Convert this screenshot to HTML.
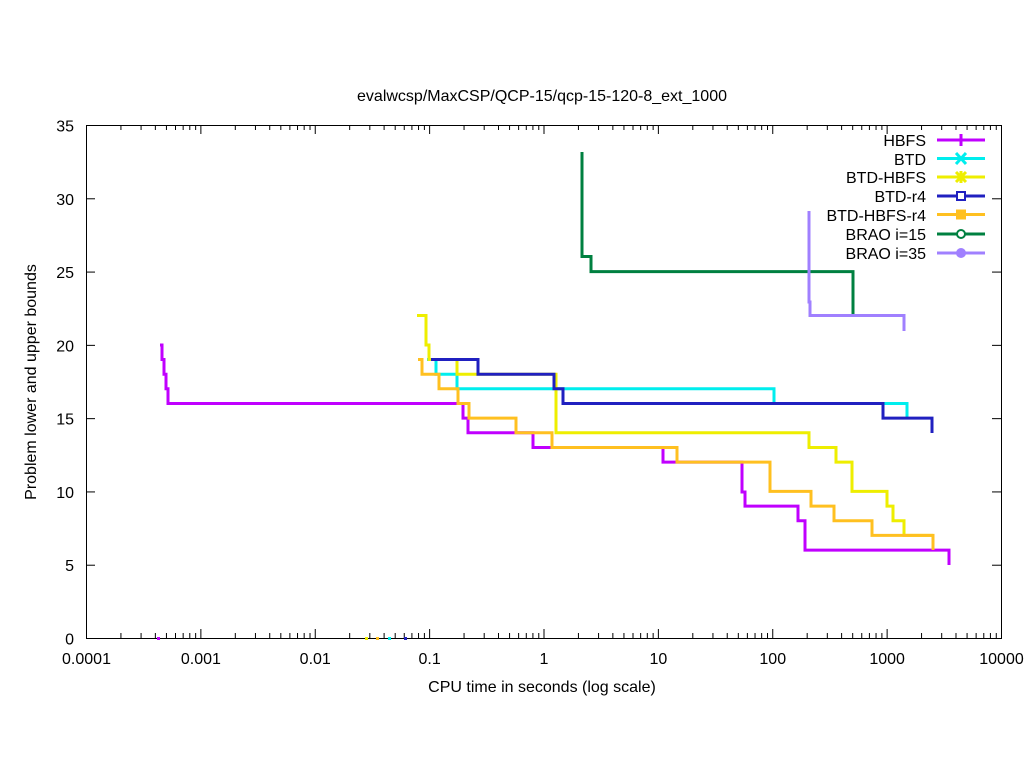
<!DOCTYPE html>
<html><head><style>body{margin:0;background:#fff}svg{display:block}text{font-family:"Liberation Sans",sans-serif;font-size:16px;fill:#000}</style></head>
<body>
<svg id="s" width="1024" height="768" xmlns="http://www.w3.org/2000/svg">
<rect width="1024" height="768" fill="#fff"/>
<g id="ticks" stroke="#000" stroke-width="1"></g>
<rect x="86.5" y="125.5" width="915" height="513" fill="none" stroke="#000"/>
<text x="542" y="101" text-anchor="middle">evalwcsp/MaxCSP/QCP-15/qcp-15-120-8_ext_1000</text>
<text x="542" y="692" text-anchor="middle">CPU time in seconds (log scale)</text>
<text transform="translate(36,382) rotate(-90)" text-anchor="middle">Problem lower and upper bounds</text>
<g id="labels"></g>
<g fill="none" stroke-width="3">
<path stroke="#c000ff" d="M160,345H162V359.5H164V374.2H166V388.8H168V403.5H463V418.1H468V432.8H533V447.5H663V462.1H742V492H745V506.1H798V520.7H805V550.1H949V565"/>
<path stroke="#00eeee" d="M427,359.5H436V374.2H457V388.8H774V403.5H907V418"/>
<path stroke="#eeee00" d="M417,315.5H426V345H429V359.5H457V374.2H556V432.8H809V447.5H836V462.1H852V491.4H887V506.1H893V520.7H904V535.4H933"/>
<path stroke="#2020c0" d="M431,359.5H478V374.2H554V388.8H563V403.5H883V418.1H932V433"/>
<path stroke="#ffc020" d="M418,359.5H422V374.2H439V388.8H458V403.5H469V418.1H516V432.8H552V447.5H677V462.1H770V491.4H811V506.1H834V520.7H872V535.4H933V550"/>
<path stroke="#008040" d="M582,152V256.5H591V271.6H853V315.5"/>
<path stroke="#a080ff" d="M809,211V302H810V315.5H904V331"/>
</g>
<g>
<rect x="157" y="637" width="3" height="3" fill="#c000ff"/>
<rect x="365" y="637" width="3" height="3" fill="#eeee00"/>
<rect x="376" y="637" width="3" height="3" fill="#ffc020"/>
<rect x="388" y="637" width="3" height="3" fill="#00eeee"/>
<rect x="404" y="637" width="3" height="3" fill="#2020c0"/>
</g>
<g text-anchor="end">
<text x="926" y="146">HBFS</text>
<text x="926" y="165">BTD</text>
<text x="926" y="183">BTD-HBFS</text>
<text x="926" y="202">BTD-r4</text>
<text x="926" y="221">BTD-HBFS-r4</text>
<text x="926" y="240">BRAO i=15</text>
<text x="926" y="259">BRAO i=35</text>
</g>
<g stroke-width="3" fill="none">
<path stroke="#c000ff" d="M937,140H985M961,134V146"/>
<path stroke="#00eeee" d="M937,158.5H985M956,153L966,164M956,164L966,153"/>
<path stroke="#eeee00" d="M937,177H985M956,172L966,182M956,182L966,172M961,171V183"/>
<path stroke="#2020c0" d="M937,196H985"/>
<rect x="957" y="192" width="8" height="8" stroke="#2020c0" stroke-width="2" fill="#fff"/>
<path stroke="#ffc020" d="M937,214.5H985"/>
<rect x="956" y="209.5" width="10" height="10" fill="#ffc020"/>
<path stroke="#008040" d="M937,234H985"/>
<circle cx="961" cy="234" r="4" stroke="#008040" stroke-width="2" fill="#fff"/>
<path stroke="#a080ff" d="M937,253H985"/>
<circle cx="961" cy="253" r="5" fill="#a080ff"/>
</g>
</svg>
<script>
var t=document.getElementById('ticks'),l=document.getElementById('labels'),ns='http://www.w3.org/2000/svg';
function ln(x1,y1,x2,y2){var e=document.createElementNS(ns,'line');e.setAttribute('x1',x1);e.setAttribute('y1',y1);e.setAttribute('x2',x2);e.setAttribute('y2',y2);t.appendChild(e);}
function tx(x,y,s,a){var e=document.createElementNS(ns,'text');e.setAttribute('x',x);e.setAttribute('y',y);e.setAttribute('text-anchor',a);e.textContent=s;l.appendChild(e);}
for(var v=0;v<=35;v+=5){var y=638.5-v*14.657;ln(86,y,95,y);ln(1001,y,992,y);tx(74,y+6,v,'end');}
var lab=['0.0001','0.001','0.01','0.1','1','10','100','1000','10000'];
for(var d=0;d<=8;d++){var x=86.5+d*114.375;ln(x,638,x,629);ln(x,125,x,134);tx(x,664,lab[d],'middle');
 if(d<8)for(var m=2;m<10;m++){var xm=x+Math.log10(m)*114.375;ln(xm,638,xm,633);ln(xm,125,xm,130);}}
</script>
</body></html>
